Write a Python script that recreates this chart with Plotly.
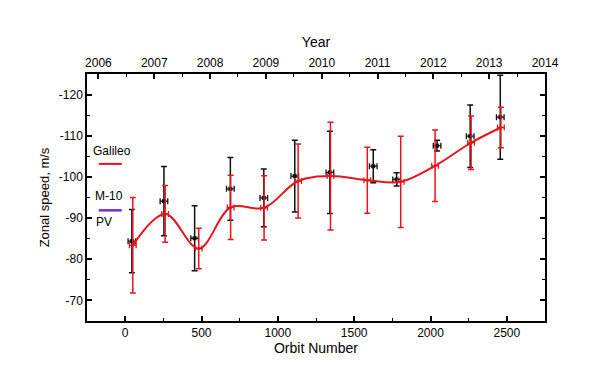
import plotly.graph_objects as go

# Data
orbit_red = [50, 262, 482, 691, 910, 1133, 1345, 1586, 1805, 2030, 2266, 2461]
speed_red = [-83.4, -91.0, -82.6, -92.6, -92.5, -99.0, -100.2, -99.2, -98.8, -102.7, -108.3, -112.0]
err_red = [11.6, 6.9, 4.9, 7.8, 7.8, 9.0, 13.1, 8.0, 11.1, 8.7, 6.5, 4.9]
xerr_red = 22

orbit_black = [44, 254, 455, 689, 908, 1111, 1341, 1625, 1778, 2043, 2260, 2457]
speed_black = [-84.4, -94.1, -85.1, -97.1, -94.9, -100.2, -101.1, -102.6, -99.4, -107.6, -109.9, -114.5]
err_black = [7.7, 8.4, 7.9, 7.6, 7.0, 8.7, 10.0, 4.0, 1.6, 1.3, 7.6, 10.2]
xerr_black = 25

y_ticks = [-120, -110, -100, -90, -80, -70]
y_ticktext = ["-120", "-110", "-100", "-90", "-80", "-70"]
x_ticks = [0, 500, 1000, 1500, 2000, 2500]
year_ticks = [2006, 2007, 2008, 2009, 2010, 2011, 2012, 2013, 2014]

RED = "#e8141c"
BLACK = "#111111"
PURPLE = "#7a2ad8"
FONT = "Liberation Sans, Arial, sans-serif"

fig = go.Figure()

# invisible carrier so the top (year) axis is drawn
fig.add_trace(go.Scatter(
    x=[year_ticks[0], year_ticks[-1]], y=[y_ticks[2], y_ticks[2]], xaxis="x2", yaxis="y",
    mode="markers", marker=dict(opacity=0), showlegend=False, hoverinfo="skip",
))

fig.add_trace(go.Scatter(
    x=orbit_black, y=speed_black, mode="markers",
    marker=dict(symbol="square", size=4, color=BLACK),
    error_y=dict(type="data", array=err_black, color=BLACK, thickness=1.5, width=3),
    error_x=dict(type="data", array=[xerr_black] * len(orbit_black), color=BLACK, thickness=1.3, width=3),
    showlegend=False, hoverinfo="skip",
))

fig.add_trace(go.Scatter(
    x=orbit_red, y=speed_red, mode="lines+markers",
    line=dict(color=RED, width=2, shape="spline", smoothing=1.0),
    marker=dict(size=3, color=RED),
    error_y=dict(type="data", array=err_red, color=RED, thickness=1.5, width=3),
    error_x=dict(type="data", array=[xerr_red] * len(orbit_red), color=RED, thickness=1.3, width=3),
    showlegend=False, hoverinfo="skip",
))

axis_common = dict(
    showline=True, linecolor="black", linewidth=1.5,
    ticks="inside", ticklen=5, tickwidth=1.5, tickcolor="black",
    showgrid=False, zeroline=False, automargin=False,
    tickfont=dict(family=FONT, size=12, color="black"),
)

fig.update_layout(
    width=600, height=377,
    margin=dict(l=79, r=63, t=66, b=64),
    paper_bgcolor="white", plot_bgcolor="white",
    font=dict(family=FONT, color="black"),
    xaxis=dict(
        range=[-250, 2750], tickvals=x_ticks,
        minor=dict(ticks="inside", ticklen=3, tickwidth=1.2, dtick=250, tick0=0, tickcolor="black"),
        title=dict(text="Orbit Number", font=dict(family=FONT, size=14), standoff=4),
        **axis_common,
    ),
    xaxis2=dict(
        overlaying="x", side="top", anchor="y",
        range=[2005.795, 2014], tickvals=year_ticks,
        minor=dict(ticks="inside", ticklen=3, tickwidth=1.2, dtick=0.5, tick0=2006, tickcolor="black"),
        title=dict(text="Year", font=dict(family=FONT, size=14), standoff=6),
        **axis_common,
    ),
    yaxis=dict(
        range=[-65, -125], tickvals=y_ticks, ticktext=y_ticktext,
        mirror="ticks",
        minor=dict(ticks="inside", ticklen=3, tickwidth=1.2, dtick=5, tick0=-120, tickcolor="black"),
        title=dict(text="Zonal speed, m/s", font=dict(family=FONT, size=13), standoff=6),
        **axis_common,
    ),
)

# Hand-drawn style legend inside the plot
fig.add_shape(type="line", xref="paper", yref="paper", x0=0.0256, x1=0.0759, y0=0.636, y1=0.636,
              line=dict(color=RED, width=2))
fig.add_shape(type="line", xref="paper", yref="paper", x0=0.0256, x1=0.0759, y0=0.448, y1=0.448,
              line=dict(color=PURPLE, width=2.5))
for txt, xp, yp in [("Galileo", 0.054, 0.687), ("M-10", 0.049, 0.505), ("PV", 0.038, 0.401)]:
    fig.add_annotation(text=txt, xref="paper", yref="paper", x=xp, y=yp, showarrow=False,
                       font=dict(family=FONT, size=12, color="black"), xanchor="center", yanchor="middle")

fig.write_html("out.html")
